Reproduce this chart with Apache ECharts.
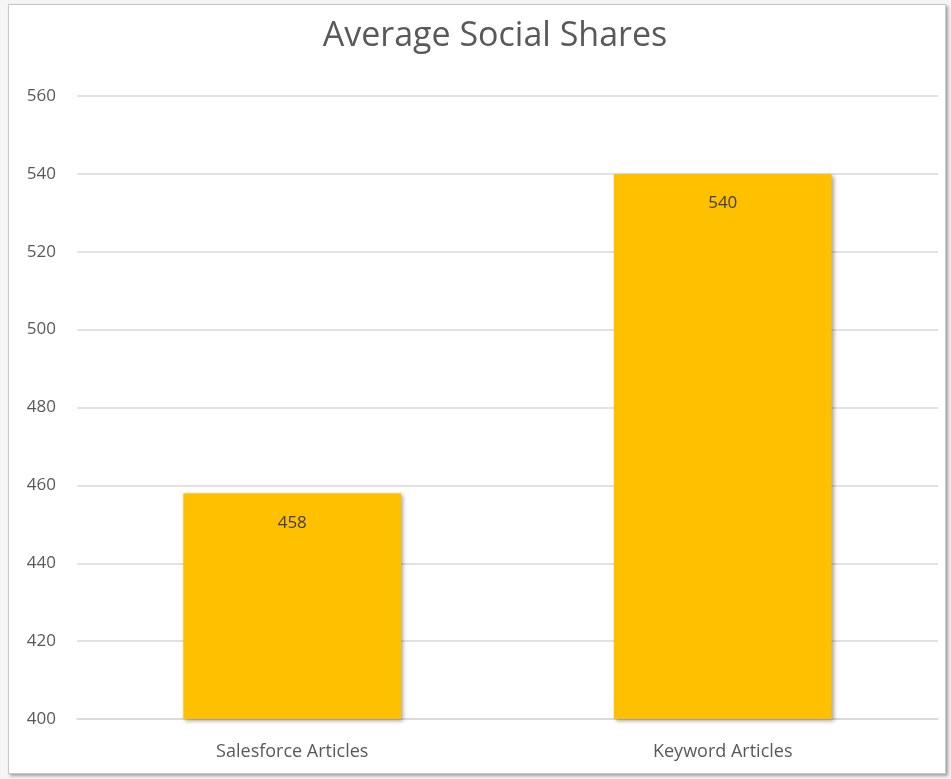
<!DOCTYPE html>
<html><head><meta charset="utf-8">
<script src="https://cdn.jsdelivr.net/npm/echarts@6/dist/echarts.min.js"></script>
<style>
html,body{margin:0;padding:0;background:#f4f5f4;}
#frame{position:absolute;left:8px;top:4px;width:936px;height:768px;background:#fff;border:1px solid #c8c8c8;box-shadow:2px 2px 3px rgba(0,0,0,0.35);}
#chart{position:absolute;left:-8px;top:-4px;width:951px;height:779px;}
</style></head>
<body>
<div id="frame"><div id="chart"></div></div>
<script>
const titleText = 'Average Social Shares';
const categories = ['Salesforce Articles', 'Keyword Articles'];
const values = [458, 540];
const yMin = 400, yMax = 560, yStep = 20;

const font = '"Open Sans", "Noto Sans", sans-serif';
const chart = echarts.init(document.getElementById('chart'));
chart.setOption({
  animation: false,
  title: {text: titleText, left: 489, top: 13, textAlign: 'center',
    textStyle: {fontFamily: font, fontSize: 34, fontWeight: 'normal', color: '#595959'}},
  grid: {left: 76, right: 14, top: 95, bottom: 61},
  xAxis: {type: 'category', data: categories,
    axisLine: {lineStyle: {color: '#d9d9d9', width: 1.5}}, axisTick: {show: false},
    axisLabel: {fontFamily: font, fontSize: 18, color: '#595959', margin: 24}},
  yAxis: {type: 'value', min: yMin, max: yMax, interval: yStep,
    axisLine: {show: false}, axisTick: {show: false},
    splitLine: {lineStyle: {color: '#d9d9d9', width: 1.5}},
    axisLabel: {fontFamily: font, fontSize: 17, color: '#595959', margin: 21}},
  series: [{type: 'bar', data: values, barWidth: '50.6%',
    itemStyle: {color: '#FFC000', shadowColor: 'rgba(0,0,0,0.35)', shadowBlur: 4, shadowOffsetX: 2, shadowOffsetY: 2},
    label: {show: true, position: 'insideTop', distance: 21, fontFamily: font, fontSize: 17, color: '#404040'}}]
});
</script>
</body></html>
